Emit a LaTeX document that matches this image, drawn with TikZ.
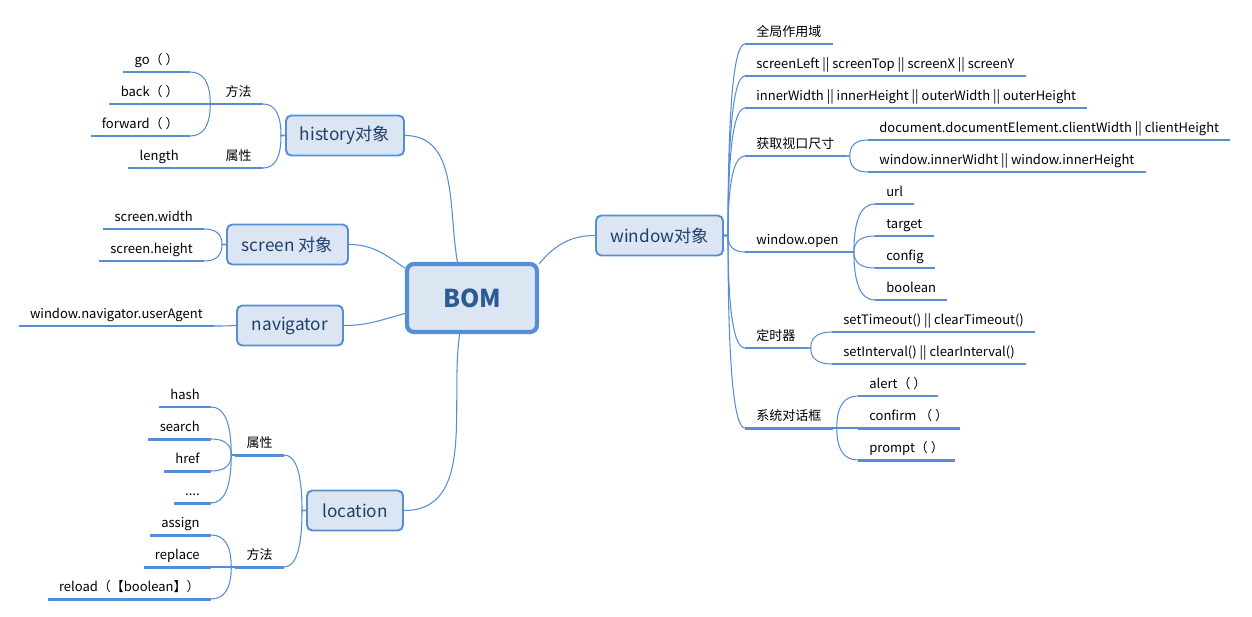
\documentclass[tikz,border=0pt]{standalone}
\usepackage{fontspec}
\setmainfont{Noto Sans CJK SC}
\usetikzlibrary{calc}
\definecolor{mapline}{HTML}{558ED5}
\definecolor{mapfill}{HTML}{DCE6F2}
\definecolor{maptext}{HTML}{1F3F6E}
\definecolor{roottext}{HTML}{2E5A93}
\tikzset{
  root/.style={draw=mapline, fill=mapfill, line width=2.4pt, rounded corners=4pt,
    minimum width=2.6cm, minimum height=1.36cm, text=roottext,
    font=\fontsize{14}{16}\selectfont\bfseries},
  topic/.style={draw=mapline, fill=mapfill, line width=1.1pt, rounded corners=3pt,
    minimum height=0.8cm, text=maptext, font=\fontsize{9.8}{12}\selectfont},
  leaf/.style={font=\fontsize{7.4}{9}\selectfont, inner xsep=0.22cm, inner ysep=1.8pt,
    text height=6.2pt, text depth=2pt,
    append after command={(\tikzlastnode.south west) edge[draw=mapline, line width=1.7pt] (\tikzlastnode.south east)}},
  link/.style={draw=mapline, line width=0.6pt},
  curvy/.style={to path={let \p1=(\tikztostart), \p2=(\tikztotarget),
    \n1={ifthenelse(\x2>\x1,2.3,-2.3)} in
    -- ({\x1+\n1},\y1) .. controls ({\x1+\n1},{\y1+0.667*(\y2-\y1)})
    and ({\x2+0.667*(\x1+\n1-\x2)},\y2) .. (\tikztotarget)}}
}
\begin{document}
\begin{tikzpicture}[x=0.02cm, y=0.02cm]
  \useasboundingbox (0,0) rectangle (1252,-616);
  % centre and first level
  \node[root] (bom) at (472,-298) {BOM};
  \node[topic, minimum width=2.36cm] (hist) at (345,-135.5) {history对象};
  \node[topic, minimum width=2.42cm] (scr) at (287.5,-244.5) {screen 对象};
  \node[topic, minimum width=2.12cm] (nav) at (290,-325.5) {navigator};
  \node[topic, minimum width=1.92cm] (loc) at (355,-510.5) {location};
  \node[topic, minimum width=2.54cm] (win) at (659.5,-235.5) {window对象};
  \draw[link] (hist.east) to[out=0, in=100] (bom.112);
  \draw[link] (scr.east) to[out=0, in=145] (bom.156);
  \draw[link] (nav.east) to[out=0, in=195] (bom.193);
  \draw[link] (loc.east) to[out=0, in=262] (bom.251);
  \draw[link] (win.west) to[out=180, in=50] (bom.27);

  % history
  \node[leaf, anchor=south east] (hfang) at (263,-104) {方法};
  \node[leaf, anchor=south east] (hshu) at (263,-168) {属性};
  \node[leaf, anchor=south east] (go) at (190,-72) {go（ ）};
  \node[leaf, anchor=south east] (back) at (190,-104) {back（ ）};
  \node[leaf, anchor=south east] (forward) at (190,-136) {forward（ ）};
  \node[leaf, anchor=south east] (length) at (190,-168) {length};
  \foreach \k in {hfang,hshu} \draw[link] (hist.west) to[curvy] (\k.south east);
  \foreach \k in {go,back,forward} \draw[link] (hfang.south west) to[curvy] (\k.south east);
  \draw[link] (hshu.south west) to[curvy] (length.south east);

  % screen
  \node[leaf, anchor=south east] (swidth) at (204,-229) {screen.width};
  \node[leaf, anchor=south east] (sheight) at (204,-261) {screen.height};
  \foreach \k in {swidth,sheight} \draw[link] (scr.west) to[curvy] (\k.south east);

  % navigator
  \node[leaf, anchor=south east] (agent) at (214,-326) {window.navigator.userAgent};
  \draw[link] (nav.west) to[curvy] (agent.south east);

  % location
  \node[leaf, anchor=south east] (lshu) at (284,-455) {属性};
  \node[leaf, anchor=south east] (lfang) at (284,-567) {方法};
  \node[leaf, anchor=south east] (hash) at (211,-407) {hash};
  \node[leaf, anchor=south east] (search) at (211,-439) {search};
  \node[leaf, anchor=south east] (href) at (211,-471) {href};
  \node[leaf, anchor=south east] (dots) at (211,-503) {....};
  \node[leaf, anchor=south east] (assign) at (211,-535) {assign};
  \node[leaf, anchor=south east] (replace) at (211,-567) {replace};
  \node[leaf, anchor=south east] (reload) at (211,-599) {reload（【boolean】）};
  \foreach \k in {lshu,lfang} \draw[link] (loc.west) to[curvy] (\k.south east);
  \foreach \k in {hash,search,href,dots} \draw[link] (lshu.south west) to[curvy] (\k.south east);
  \foreach \k in {assign,replace,reload} \draw[link] (lfang.south west) to[curvy] (\k.south east);

  % window
  \node[leaf, anchor=south west] (scope) at (745,-44) {全局作用域};
  \node[leaf, anchor=south west] (spos) at (745,-76) {screenLeft || screenTop || screenX || screenY};
  \node[leaf, anchor=south west] (ssize) at (745,-108) {innerWidth || innerHeight || outerWidth || outerHeight};
  \node[leaf, anchor=south west] (view) at (745,-156) {获取视口尺寸};
  \node[leaf, anchor=south west] (wopen) at (745,-252) {window.open};
  \node[leaf, anchor=south west] (timer) at (745,-348) {定时器};
  \node[leaf, anchor=south west] (dialog) at (745,-428) {系统对话框};
  \foreach \k in {scope,spos,ssize,view,wopen,timer,dialog} \draw[link] (win.east) to[curvy] (\k.south west);
  \node[leaf, anchor=south west] (docw) at (868,-140) {document.documentElement.clientWidth || clientHeight};
  \node[leaf, anchor=south west] (innerw) at (868,-172) {window.innerWidht || window.innerHeight};
  \foreach \k in {docw,innerw} \draw[link] (view.south east) to[curvy] (\k.south west);
  \node[leaf, anchor=south west] (url) at (875,-204) {url};
  \node[leaf, anchor=south west] (target) at (875,-236) {target};
  \node[leaf, anchor=south west] (config) at (875,-268) {config};
  \node[leaf, anchor=south west] (bool) at (875,-300) {boolean};
  \foreach \k in {url,target,config,bool} \draw[link] (wopen.south east) to[curvy] (\k.south west);
  \node[leaf, anchor=south west] (stime) at (832,-332) {setTimeout() || clearTimeout()};
  \node[leaf, anchor=south west] (sint) at (832,-364) {setInterval() || clearInterval()};
  \foreach \k in {stime,sint} \draw[link] (timer.south east) to[curvy] (\k.south west);
  \node[leaf, anchor=south west] (alert) at (858,-396) {alert（ ）};
  \node[leaf, anchor=south west] (confirm) at (858,-428) {confirm （ ）};
  \node[leaf, anchor=south west] (prompt) at (858,-460) {prompt（ ）};
  \foreach \k in {alert,confirm,prompt} \draw[link] (dialog.south east) to[curvy] (\k.south west);
\end{tikzpicture}
\end{document}
